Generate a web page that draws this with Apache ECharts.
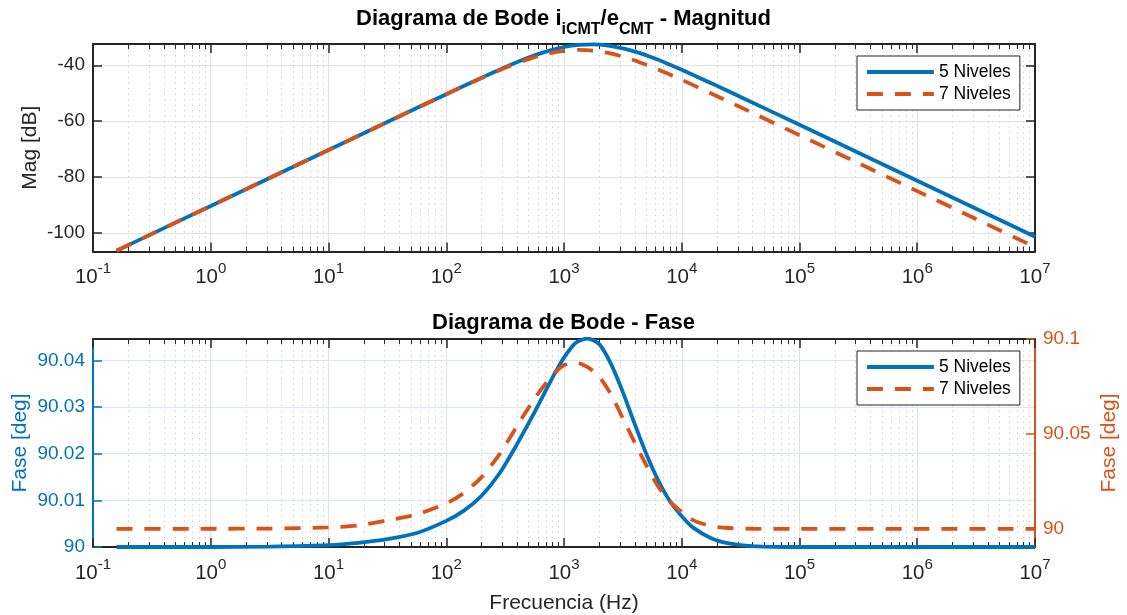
<!DOCTYPE html>
<html><head><meta charset="utf-8">
<script src="https://cdn.jsdelivr.net/npm/echarts@6/dist/echarts.min.js"></script>
<style>html,body{margin:0;padding:0;background:#fff}#c{width:1127px;height:615px}</style>
</head><body><div id="c"></div>
<script>
// ---- data ----
const freqMag = [0.1585, 0.3162, 1, 3.162, 10, 31.62, 100, 177.8, 316.2, 421.7, 562.3, 749.9, 1000, 1334, 1778, 2371, 3162, 4217, 5623, 7499, 10000, 17783, 31623, 1e5, 316228, 1e6, 3162278, 1e7];
const magBlue = [-106.3, -100.3, -90.3, -80.3, -70.3, -60.3, -50.34, -45.43, -40.70, -38.49, -36.48, -34.77, -33.47, -32.70, -32.51, -32.94, -33.93, -35.41, -37.26, -39.36, -41.62, -46.40, -51.33, -61.30, -71.3, -81.3, -91.3, -101.3];
const magOrange = [-106.3, -100.3, -90.3, -80.3, -70.3, -60.31, -50.37, -45.51, -40.93, -38.89, -37.11, -35.72, -34.83, -34.50, -34.76, -35.59, -36.92, -38.65, -40.68, -42.89, -45.22, -50.07, -55.02, -65.0, -75.0, -85.0, -95.0, -105.0];

const freqPhase = [0.1585, 1, 3.162, 10, 17.78, 31.62, 56.23, 100, 141.3, 199.5, 281.8, 398.1, 562.3, 794.3, 1000, 1259, 1585, 1995, 2512, 3162, 3981, 5012, 6310, 7943, 10000, 12589, 17783, 25119, 39811, 1e5, 1e6, 1e7];
const phaseBlue = [90.0000, 90.0000, 90.0001, 90.0004, 90.0009, 90.0017, 90.0030, 90.0056, 90.0078, 90.0110, 90.0157, 90.0220, 90.0289, 90.0362, 90.0406, 90.0438, 90.0447, 90.0435, 90.0392, 90.0332, 90.0264, 90.0199, 90.0143, 90.0098, 90.0066, 90.0041, 90.0019, 90.0008, 90.0002, 90.0000, 90.0000, 90.0000];
const phaseOrange = [90.0000, 90.0001, 90.0002, 90.0008, 90.0018, 90.0045, 90.0077, 90.0134, 90.0190, 90.0273, 90.0391, 90.0541, 90.0686, 90.0808, 90.0862, 90.0877, 90.0852, 90.0801, 90.0708, 90.0582, 90.0456, 90.0334, 90.0224, 90.0144, 90.0089, 90.0045, 90.0015, 90.0005, 90.0001, 90.0000, 90.0000, 90.0000];

const seriesNames = ['5 Niveles', '7 Niveles'];
const decadeTicks = [0.1, 1, 10, 100, 1e3, 1e4, 1e5, 1e6, 1e7];
const magTicks = [-100, -80, -60, -40];
const phaseLeftTicks = [90, 90.01, 90.02, 90.03, 90.04];
const phaseRightTicks = [90, 90.05, 90.1];
const minorTicks = [];
for (let k = -1; k < 7; k++) for (let m = 2; m < 10; m++) minorTicks.push(+(m * Math.pow(10, k)).toPrecision(6));

// ---- style ----
const FONT = 'Liberation Sans';
const DARK = '#262626', BLUE = '#0072BD', ORANGE = '#D95319';
const TICK_FS = 19, NAME_FS = 21;

function xMajor(gi, pos, withLabels, name) {
  const a = {
    type: 'log', logBase: 10, gridIndex: gi, position: pos, min: 0.1, max: 1e7,
    axisLine: { show: true, onZero: false, lineStyle: { color: DARK, width: 2 } },
    axisTick: { show: true, inside: true, length: 9, customValues: decadeTicks, lineStyle: { color: DARK, width: 1.5 } },
    axisLabel: { show: false },
    splitLine: { show: pos === 'bottom', lineStyle: { color: '#e2e2e2', width: 1 } },
    minorTick: { show: false }, minorSplitLine: { show: false }
  };
  if (withLabels) {
    a.axisLabel = {
      show: true, customValues: decadeTicks, margin: 10,
      formatter: v => '{b|10}{s|' + Math.round(Math.log10(v)) + '}',
      rich: {
        b: { fontSize: 20.5, fontFamily: FONT, color: DARK, lineHeight: 32 },
        s: { fontSize: 15, fontFamily: FONT, color: DARK, lineHeight: 15, verticalAlign: 'top' }
      }
    };
  }
  if (name) {
    a.name = name; a.nameLocation = 'middle'; a.nameGap = 46; a.nameMoveOverlap = false;
    a.nameTextStyle = { fontSize: NAME_FS, fontFamily: FONT, color: DARK };
  }
  return a;
}
function xMinor(gi, pos) {
  return {
    type: 'log', logBase: 10, gridIndex: gi, position: pos, min: 0.1, max: 1e7,
    axisLine: { show: false, onZero: false },
    axisLabel: { show: false },
    axisTick: { show: true, inside: true, length: 5, customValues: minorTicks, lineStyle: { color: DARK, width: 1 } },
    splitLine: { show: pos === 'bottom', lineStyle: { color: '#d4d4d4', width: 1, type: [1.5, 4] } },
    minorTick: { show: false }, minorSplitLine: { show: false }
  };
}
function yAx(gi, pos, min, max, ticks, color, labels, gridColor, name, nameGap) {
  const a = {
    type: 'value', gridIndex: gi, position: pos, min: min, max: max,
    axisLine: { show: true, onZero: false, lineStyle: { color: color, width: 2 } },
    axisTick: { show: true, inside: true, length: 9, customValues: ticks, lineStyle: { color: color, width: 1.5 } },
    axisLabel: labels ? { show: true, customValues: ticks, margin: 8, color: color, fontSize: TICK_FS, fontFamily: FONT,
      formatter: v => String(+(+v).toFixed(4)) } : { show: false },
    splitLine: { show: !!gridColor, lineStyle: { color: gridColor || '#e2e2e2', width: 1 } }
  };
  if (name) {
    a.name = name; a.nameLocation = 'middle'; a.nameGap = nameGap; a.nameRotate = 90; a.nameMoveOverlap = false;
    a.nameTextStyle = { fontSize: NAME_FS, fontFamily: FONT, color: color };
  }
  return a;
}
function pairs(xs, ys) { return xs.map((x, i) => [x, ys[i]]); }
function lineSeries(name, xi, yi, xs, ys, color, dashed) {
  return {
    name: name, type: 'line', xAxisIndex: xi, yAxisIndex: yi, data: pairs(xs, ys),
    symbol: 'none', showSymbol: false, smooth: 0.25, z: dashed ? 6 : 5,
    itemStyle: { color: color },
    lineStyle: { color: color, width: 3.8, type: dashed ? [16, 12] : 'solid', cap: 'butt' }
  };
}
function legendAt(top) {
  return {
    orient: 'vertical', left: 857, top: top, data: seriesNames,
    itemWidth: 67, itemHeight: 14, itemGap: 2,
    padding: [6, 9, 6, 8],
    backgroundColor: '#fff', borderColor: DARK, borderWidth: 1, borderRadius: 0,
    itemStyle: { opacity: 0, borderWidth: 0 },
    lineStyle: { width: 3.8 },
    textStyle: { fontSize: 17.5, fontFamily: FONT, color: '#000', lineHeight: 20 },
    selectedMode: false
  };
}

const chart = echarts.init(document.getElementById('c'), null, { renderer: 'canvas' });
chart.setOption({
  animation: false,
  backgroundColor: '#fff',
  textStyle: { fontFamily: FONT },
  title: [
    { text: 'Diagrama de Bode i{sub|iCMT}/e{sub|CMT} - Magnitud', left: 'center', top: -1, padding: 0,
      textStyle: { fontSize: 22, fontWeight: 'bold', fontFamily: FONT, color: '#000', lineHeight: 39,
        rich: { sub: { fontSize: 16, fontWeight: 'bold', fontFamily: FONT, color: '#000', lineHeight: 16, verticalAlign: 'bottom' } } } },
    { text: 'Diagrama de Bode - Fase', left: 'center', top: 311, padding: 0,
      textStyle: { fontSize: 22, fontWeight: 'bold', fontFamily: FONT, color: '#000', lineHeight: 24 } }
  ],
  legend: [legendAt(56), legendAt(351)],
  grid: [
    { left: 93, top: 44, width: 942, height: 207.5, outerBoundsMode: 'none', containLabel: false },
    { left: 93, top: 339, width: 942, height: 208, outerBoundsMode: 'none', containLabel: false }
  ],
  xAxis: [
    xMajor(0, 'bottom', true), xMajor(0, 'top', false), xMinor(0, 'bottom'), xMinor(0, 'top'),
    xMajor(1, 'bottom', true, 'Frecuencia (Hz)'), xMajor(1, 'top', false), xMinor(1, 'bottom'), xMinor(1, 'top')
  ],
  yAxis: [
    yAx(0, 'left', -106.6, -32.4, magTicks, DARK, true, '#e2e2e2', 'Mag [dB]', 52),
    yAx(0, 'right', -106.6, -32.4, magTicks, DARK, false, null),
    yAx(1, 'left', 90, 90.0446, phaseLeftTicks, BLUE, true, '#d9e7f4', 'Fase [deg]', 62),
    yAx(1, 'right', 89.9905, 90.1, phaseRightTicks, ORANGE, true, null, 'Fase [deg]', 64)
  ],
  series: [
    lineSeries(seriesNames[0], 0, 0, freqMag, magBlue, BLUE, false),
    lineSeries(seriesNames[1], 0, 0, freqMag, magOrange, ORANGE, true),
    lineSeries(seriesNames[0], 4, 2, freqPhase, phaseBlue, BLUE, false),
    lineSeries(seriesNames[1], 4, 3, freqPhase, phaseOrange, ORANGE, true)
  ]
});
</script>
</body></html>
